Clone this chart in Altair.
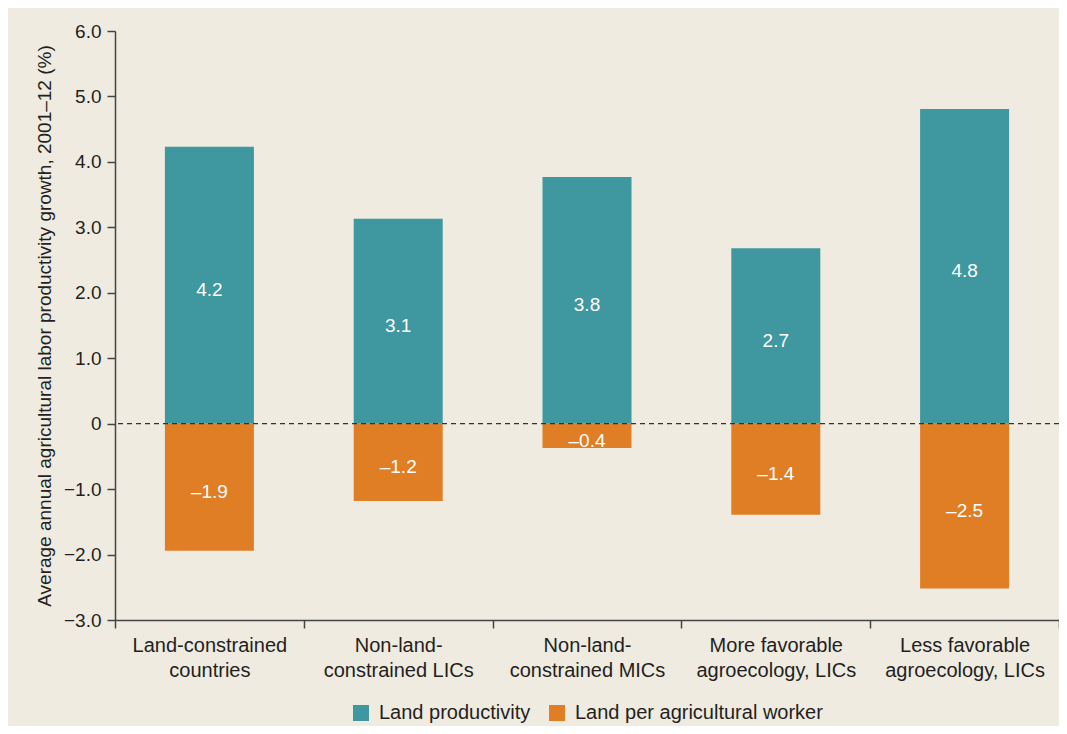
import altair as alt
import pandas as pd

categories = [
    "Land-constrained|countries",
    "Non-land-|constrained LICs",
    "Non-land-|constrained MICs",
    "More favorable|agroecology, LICs",
    "Less favorable|agroecology, LICs",
]
land_productivity = [4.23, 3.13, 3.77, 2.68, 4.81]
land_per_worker = [-1.94, -1.18, -0.37, -1.39, -2.52]
productivity_labels = ["4.2", "3.1", "3.8", "2.7", "4.8"]
worker_labels = ["–1.9", "–1.2", "–0.4", "–1.4", "–2.5"]
series_names = ["Land productivity", "Land per agricultural worker"]
series_colors = ["#3F97A0", "#E07E26"]

rows = []
for i, c in enumerate(categories):
    rows.append({"category": c, "series": series_names[0], "value": land_productivity[i], "label": productivity_labels[i]})
    rows.append({"category": c, "series": series_names[1], "value": land_per_worker[i], "label": worker_labels[i]})
df = pd.DataFrame(rows)

FONT = "Liberation Sans"
TEXT = "#231F20"
BG = "#EFEBE1"

x_scale = alt.Scale(domain=categories, paddingInner=0, paddingOuter=0)
x_enc = alt.X(
    "category:N",
    sort=categories,
    scale=x_scale,
    title=None,
    axis=alt.Axis(
        labelExpr="split(datum.label, '|')",
        labelAngle=0,
        labelFontSize=20,
        labelLineHeight=25,
        labelPadding=7,
        labelColor=TEXT,
        labelFont=FONT,
        labelLimit=300,
        tickBand="extent",
        tickSize=8,
        tickColor="#444444",
        tickWidth=1.5,
        domainColor="#444444",
        domainWidth=1.5,
    ),
)

y_scale = alt.Scale(domain=[-3, 6], nice=False, zero=False)
y_axis = alt.Axis(
    values=[-3, -2, -1, 0, 1, 2, 3, 4, 5, 6],
    labelExpr="datum.value == 0 ? '0' : replace(format(datum.value, '.1f'), '-', '−')",
    labelFontSize=19,
    labelColor=TEXT,
    labelFont=FONT,
    labelPadding=6,
    tickSize=8,
    tickColor="#444444",
    tickWidth=1.5,
    domainColor="#444444",
    domainWidth=1.5,
    grid=False,
    title="Average annual agricultural labor productivity growth, 2001–12 (%)",
    titleFontSize=19,
    titleFont=FONT,
    titleFontWeight="normal",
    titleColor=TEXT,
    titlePadding=9,
)

bars = alt.Chart(df).mark_bar(size=89).encode(
    x=x_enc,
    y=alt.Y("value:Q", scale=y_scale, axis=y_axis, stack=None),
    color=alt.Color(
        "series:N",
        scale=alt.Scale(domain=series_names, range=series_colors),
        title=None,
        legend=alt.Legend(
            orient="none",
            direction="horizontal",
            legendX=236,
            legendY=672,
            symbolType="square",
            symbolSize=256,
            symbolStrokeWidth=0,
            symbolOpacity=1,
            labelFontSize=20,
            labelFont=FONT,
            labelColor=TEXT,
            labelLimit=400,
            columnPadding=16,
            labelOffset=8,
        ),
    ),
)

texts = alt.Chart(df).transform_calculate(mid="datum.value / 2").mark_text(
    color="white", fontSize=19, font=FONT, baseline="middle", align="center", dy=5
).encode(
    x=alt.X("category:N", sort=categories, scale=x_scale),
    y=alt.Y("mid:Q", scale=y_scale),
    text="label:N",
)

zero_df = pd.DataFrame({"y": [0]})
rule = alt.Chart(zero_df).mark_rule(color="#333333", strokeDash=[5, 4], strokeWidth=1.3).encode(
    y=alt.Y("y:Q", scale=y_scale)
)

chart = (
    alt.layer(bars, rule, texts)
    .properties(
        width=944,
        height=589,
        autosize=alt.AutoSizeParams(type="none"),
        padding={"left": 107, "top": 23, "right": 0, "bottom": 106},
        background=BG,
    )
    .configure_view(stroke=None)
)

chart.save("out.html", embed_options={"renderer": "svg", "actions": False})
